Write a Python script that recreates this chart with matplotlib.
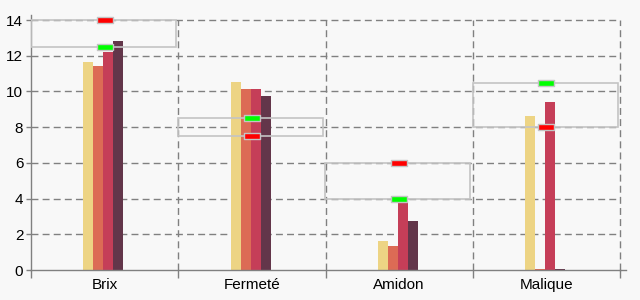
import matplotlib
matplotlib.use("Agg")
import matplotlib.pyplot as plt
import numpy as np
from matplotlib.path import Path

categories = ["Brix", "Fermeté", "Amidon", "Malique"]
series_1 = [11.65, 10.53, 1.62, 8.62]
series_2 = [11.42, 10.13, 1.34, 0.05]
series_3 = [12.2, 10.13, 4.12, 9.41]
series_4 = [12.82, 9.74, 2.74, 0.05]
red_marks = [14.0, 7.5, 6.0, 8.0]
green_marks = [12.5, 8.5, 4.0, 10.5]
y_ticks = [0, 2, 4, 6, 8, 10, 12, 14]

colors = ["#EDD484", "#DC6B55", "#C53E58", "#63364A"]
bg = "#F8F8F8"
grid_c = "#808080"

plt.rcParams['font.family'] = ['Liberation Sans', 'DejaVu Sans']

fig = plt.figure(figsize=(6.4, 3.0), dpi=100, facecolor=bg)
ax = fig.add_axes([31/640, 30/300, 589/640, 255/300])
ax.set_facecolor(bg)

x = np.arange(len(categories))
bw = 10/147.25
shift = -1.2/147.25
all_series = [series_1, series_2, series_3, series_4]
for i, (s, c) in enumerate(zip(all_series, colors)):
    ax.bar(x + shift + (i - 1.5) * bw, s, width=bw, color=c, zorder=2, linewidth=0)

# target boxes
lo = np.minimum(red_marks, green_marks)
hi = np.maximum(red_marks, green_marks)
ax.bar(x - 0.008, hi - lo, bottom=lo, width=0.985, fill=False,
       edgecolor="#C4C4C4", linewidth=1.2, zorder=3)

rect = Path([(-1, -0.32), (1, -0.32), (1, 0.32), (-1, 0.32), (-1, -0.32)],
            [Path.MOVETO, Path.LINETO, Path.LINETO, Path.LINETO, Path.CLOSEPOLY])
ax.plot(x, red_marks, linestyle="none", marker=rect, markersize=12,
        markerfacecolor="#FF0000", markeredgecolor="#C4C4C4",
        markeredgewidth=1.0, zorder=4)
ax.plot(x, green_marks, linestyle="none", marker=rect, markersize=12,
        markerfacecolor="#00FF00", markeredgecolor="#C4C4C4",
        markeredgewidth=1.0, zorder=4)

ax.set_xlim(-0.5, 3.5)
ax.set_ylim(0, 14.28)
ax.set_yticks(y_ticks)
ax.set_yticklabels([str(v) for v in y_ticks])
ax.set_xticks(x)
ax.set_xticklabels(categories)
ax.set_xticks(np.arange(-0.5, 3.6, 1.0), minor=True)

ax.tick_params(axis='x', which='major', length=0, pad=6, labelsize=11, colors="#000000")
ax.tick_params(axis='x', which='minor', length=6, width=1, color=grid_c, direction='out')
ax.tick_params(axis='y', length=3.5, width=1, color=grid_c, pad=2, labelsize=11)

for yv in y_ticks[1:]:
    ax.axhline(yv, color=grid_c, linewidth=1, linestyle=(0, (5, 3)), zorder=1)
for xv in [0.5, 1.5, 2.5, 3.5]:
    ax.plot([xv, xv], [0, 14.0], color=grid_c, linewidth=1,
            linestyle=(0, (5, 3)), zorder=1, clip_on=False)

for sp in ["top", "right"]:
    ax.spines[sp].set_visible(False)
for sp in ["left", "bottom"]:
    ax.spines[sp].set_color(grid_c)
    ax.spines[sp].set_linewidth(1)
ax.plot([3.5, 3.54], [0, 0], color=grid_c, linewidth=1, clip_on=False, zorder=1)

fig.savefig("out.png", dpi=100, facecolor=bg)
